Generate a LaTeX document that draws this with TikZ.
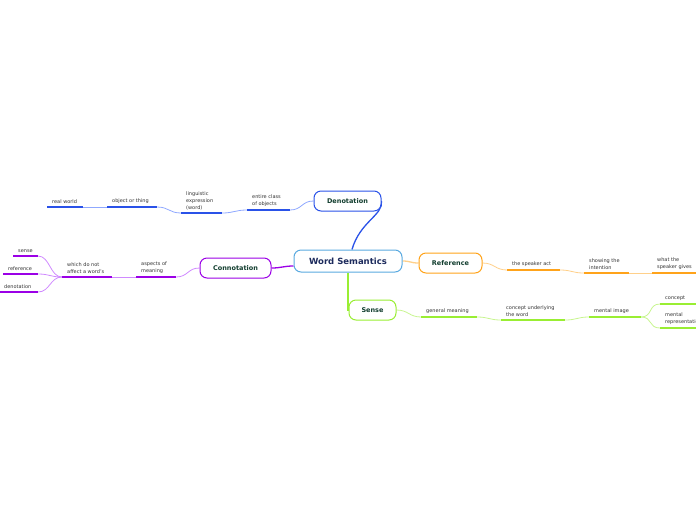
\documentclass[tikz,border=0pt]{standalone}
\usepackage{fontspec}
\setmainfont{DejaVu Sans}
\usetikzlibrary{backgrounds}
\definecolor{mainB}{HTML}{5AAAE0}
\definecolor{mainT}{HTML}{1C2A5C}
\definecolor{subT}{HTML}{113D2E}
\definecolor{lblT}{HTML}{333333}
\definecolor{blueD}{HTML}{2A52E8}
\definecolor{blueL}{HTML}{8FA8FF}
\definecolor{purpD}{HTML}{9B00E6}
\definecolor{purpL}{HTML}{D08AFF}
\definecolor{orD}{HTML}{FFA31A}
\definecolor{orL}{HTML}{FFD08A}
\definecolor{grD}{HTML}{99EE33}
\definecolor{grL}{HTML}{C8F590}
\newcommand\tpc[6]{%
  \coordinate (#1-l) at (#2,#4);
  \coordinate (#1-r) at (#3,#4);
  \node[lbl] (#1) at ([xshift=5pt,yshift=3pt]#1-l) {#6};
  \draw[ul=#5] (#1-l) -- (#1-r);}
\newcommand\cv[3]{\draw[#1] (#2) .. controls +(12,0) and +(-12,0) .. (#3);}
\begin{document}
\begin{tikzpicture}[x=1pt,y=-1pt,
  mainnode/.style={draw=mainB, line width=1pt, rounded corners=7pt, fill=white,
    minimum width=108pt, minimum height=22pt, inner sep=0pt,
    font=\fontsize{8.5}{10}\selectfont\bfseries, text=mainT},
  subnode/.style={draw=#1, line width=1pt, rounded corners=7pt, fill=white,
    minimum height=20pt, inner sep=0pt,
    font=\fontsize{6.5}{8}\selectfont\bfseries, text=subT},
  lbl/.style={inner sep=0pt, anchor=south west, align=left,
    font=\fontsize{5}{7}\selectfont, text=lblT},
  ul/.style={draw=#1, line width=1.8pt},
  cB/.style={draw=blueL, line width=0.8pt},
  cP/.style={draw=purpL, line width=0.8pt},
  cO/.style={draw=orL, line width=0.8pt},
  cG/.style={draw=grL, line width=0.8pt}]
\useasboundingbox (0,0) rectangle (696,520);
\clip (0,0) rectangle (696,520);

% main topics
\node[mainnode] (ws) at (348,261) {Word Semantics};
\node[subnode=blueD, minimum width=67pt] (den) at (347.5,201) {Denotation};
\node[subnode=purpD, minimum width=71pt] (con) at (235.5,268) {Connotation};
\node[subnode=orD, minimum width=63pt] (ref) at (450.5,263) {Reference};
\node[subnode=grD, minimum width=47pt] (sen) at (372.5,310) {Sense};

% Denotation branch
\tpc{ent}{247}{290}{210}{blueD}{entire class\\of objects}
\tpc{ling}{181}{222}{213}{blueD}{linguistic\\expression\\(word)}
\tpc{obj}{107}{157}{207}{blueD}{object or thing}
\tpc{real}{47}{83}{207}{blueD}{real world}

% Connotation branch
\tpc{asp}{136}{176}{277}{purpD}{aspects of\\meaning}
\tpc{which}{62}{112}{277}{purpD}{which do not\\affect a word's}
\tpc{sns}{13}{38}{256}{purpD}{sense}
\tpc{rfc}{3}{38}{274}{purpD}{reference}
\tpc{dno}{-1}{38}{292}{purpD}{denotation}

% Reference branch
\tpc{spk}{507}{560}{270}{orD}{the speaker act}
\tpc{show}{584}{629}{273}{orD}{showing the\\intention}
\tpc{what}{652}{700}{273}{orD}{what the\\speaker gives}

% Sense branch
\tpc{gen}{421}{477}{317}{grD}{general meaning}
\tpc{conc}{501}{565}{320}{grD}{concept underlying\\the word}
\tpc{ment}{589}{641}{317}{grD}{mental image}
\tpc{cpt}{660}{700}{304}{grD}{concept}
\tpc{mrep}{660}{700}{328}{grD}{mental\\representation}

\begin{scope}[on background layer]
  % main connectors
  \draw[blueD, line width=1.3pt] ([xshift=4pt]ws.north) .. controls +(8,-28) and +(2,14) .. (den.east);
  \draw[purpD, line width=1.3pt] (con.east) .. controls +(10,0) and +(-10,0) .. ([yshift=-5pt]ws.west);
  \draw[orL, line width=1.3pt] (ws.east) .. controls +(8,0) and +(-8,0) .. (ref.west);
  \draw[grD, line width=1.3pt] (ws.south) |- (sen.west);
  % denotation
  \cv{cB}{real-r}{obj-l}
  \cv{cB}{obj-r}{ling-l}
  \cv{cB}{ling-r}{ent-l}
  \cv{cB}{ent-r}{den.west}
  % connotation
  \cv{cP}{asp-r}{con.west}
  \cv{cP}{which-r}{asp-l}
  \cv{cP}{sns-r}{which-l}
  \cv{cP}{rfc-r}{which-l}
  \cv{cP}{dno-r}{which-l}
  % reference
  \cv{cO}{ref.east}{spk-l}
  \cv{cO}{spk-r}{show-l}
  \cv{cO}{show-r}{what-l}
  % sense
  \cv{cG}{sen.east}{gen-l}
  \cv{cG}{gen-r}{conc-l}
  \cv{cG}{conc-r}{ment-l}
  \cv{cG}{ment-r}{cpt-l}
  \cv{cG}{ment-r}{mrep-l}
\end{scope}
\end{tikzpicture}
\end{document}
